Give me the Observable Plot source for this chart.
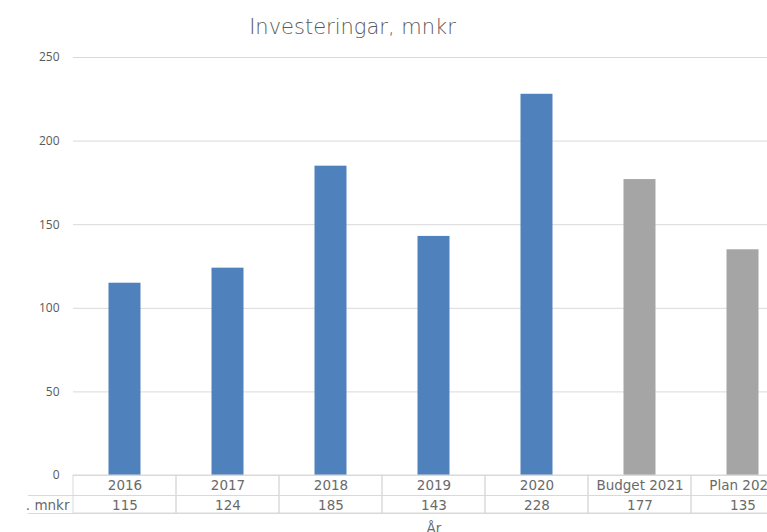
<!DOCTYPE html>
<html>
<head>
<meta charset="utf-8">
<script src="https://cdn.jsdelivr.net/npm/d3@7"></script>
<script src="https://cdn.jsdelivr.net/npm/@observablehq/plot@0.6"></script>
<style>
  html, body { margin: 0; padding: 0; background: #fff; overflow: hidden; width: 767px; height: 532px; }
  #title { height: 45px; width: 705px; text-align: center; font-family: "DejaVu Sans", sans-serif; font-weight: 300; font-size: 21px; color: #595959; line-height: 54px; white-space: nowrap; }
  #chart svg { display: block; }
</style>
</head>
<body>
<div id="title">Investeringar, mnkr</div>
<div id="chart"></div>
<script>
const categories = ["2016", "2017", "2018", "2019", "2020", "Budget 2021", "Plan 2022"];
const values = [115, 124, 185, 143, 228, 177, 135];
const kinds = ["Utfall", "Utfall", "Utfall", "Utfall", "Utfall", "Plan", "Plan"];
const yTicks = [0, 50, 100, 150, 200, 250];
const rowLabel = ". mnkr";
const axisTitle = "År";

const data = categories.map((c, i) => ({cat: c, value: values[i], kind: kinds[i]}));
const tableFont = "DejaVu Sans, sans-serif";
const lineColor = "#d9d9d9";
const textColor = "#595959";
const tableText = "#6a6a6a";
const tfs = 13.5;

const chart = Plot.plot({
  width: 800,
  height: 487,
  marginTop: 12,
  marginLeft: 73,
  marginRight: 6,
  marginBottom: 57,
  style: {maxWidth: "none", fontFamily: "'Open Sans', sans-serif", fontSize: "12px", color: textColor, background: "#fff", overflow: "visible"},
  x: {domain: categories, padding: 0, axis: null},
  y: {domain: [0, 250], ticks: yTicks, label: null, tickSize: 0, tickPadding: 14},
  color: {domain: ["Utfall", "Plan"], range: ["#4f81bd", "#a5a5a5"]},
  marks: [
    Plot.ruleY(yTicks, {stroke: lineColor}),
    Plot.barY(data, {x: "cat", y: "value", fill: "kind", insetLeft: 35.5, insetRight: 35.5}),
    Plot.barY(data, {x: "cat", y1: d => 0, y2: d => 0, insetBottom: -38, fill: "none", stroke: lineColor}),
    Plot.ruleY([0], {dy: 20, insetLeft: -45, stroke: lineColor}),
    Plot.ruleY([0], {dy: 38, insetLeft: -45, stroke: lineColor}),
    Plot.text(data, {x: "cat", text: "cat", frameAnchor: "bottom", dy: 14.5, fill: tableText, fontSize: tfs, fontFamily: tableFont}),
    Plot.text(data, {x: "cat", text: d => String(d.value), frameAnchor: "bottom", dy: 34, fill: tableText, fontSize: tfs, fontFamily: tableFont}),
    Plot.text([rowLabel], {text: d => d, frameAnchor: "bottom-left", textAnchor: "end", dx: -4, dy: 34, fill: tableText, fontSize: tfs, fontFamily: tableFont}),
    Plot.text([axisTitle], {text: d => d, frameAnchor: "bottom", dy: 57, fill: tableText, fontSize: tfs, fontFamily: tableFont})
  ]
});
document.getElementById("chart").appendChild(chart);
</script>
</body>
</html>
